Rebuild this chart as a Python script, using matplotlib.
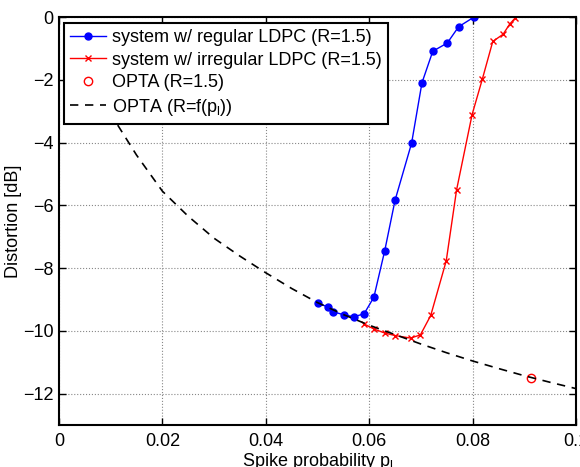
import matplotlib
matplotlib.use("Agg")
import matplotlib.pyplot as plt

plt.rcParams['font.family'] = ['Liberation Sans', 'DejaVu Sans']
plt.rcParams['mathtext.fontset'] = 'custom'
plt.rcParams['mathtext.rm'] = 'Liberation Sans'
plt.rcParams['mathtext.it'] = 'Liberation Sans'

# system w/ regular LDPC (R=1.5)
p_reg = [0.0501, 0.0521, 0.0530, 0.0551, 0.0570, 0.0590, 0.0609, 0.0630,
         0.0650, 0.0682, 0.0702, 0.0723, 0.0751, 0.0773, 0.0802]
d_reg = [-9.11, -9.25, -9.39, -9.49, -9.55, -9.46, -8.93, -7.45,
         -5.84, -4.02, -2.10, -1.09, -0.83, -0.31, -0.01]

# system w/ irregular LDPC (R=1.5)
p_irr = [0.0590, 0.0609, 0.0630, 0.0650, 0.0680, 0.0699, 0.0719, 0.0749,
         0.0769, 0.0799, 0.0819, 0.0839, 0.0859, 0.0872, 0.0882]
d_irr = [-9.78, -9.94, -10.07, -10.15, -10.23, -10.13, -9.51, -7.77,
         -5.51, -3.11, -1.97, -0.78, -0.55, -0.22, -0.04]

# OPTA (R=1.5)
p_opta = [0.0912]
d_opta = [-11.50]

# OPTA (R=f(p_l))
p_curve = [0.006, 0.008, 0.010, 0.0113, 0.015, 0.020, 0.025, 0.030, 0.035,
           0.040, 0.045, 0.050, 0.055, 0.060, 0.065, 0.070, 0.075, 0.080,
           0.085, 0.090, 0.095, 0.100]
d_curve = [-1.75, -2.40, -3.05, -3.43, -4.40, -5.55, -6.35, -7.05, -7.62,
           -8.15, -8.65, -9.10, -9.48, -9.82, -10.12, -10.42, -10.70, -10.96,
           -11.20, -11.43, -11.64, -11.84]

fig = plt.figure(figsize=(5.8, 4.67), dpi=100)
ax = fig.add_axes([59 / 580, 1 - 425 / 467, 517 / 580, 408 / 467])

ax.plot(p_reg, d_reg, '-', color='blue', marker='.', markersize=10, lw=1,
        label='system w/ regular LDPC (R=1.5)')
ax.plot(p_irr, d_irr, '-', color='red', marker='x', markersize=4, mew=1, lw=1,
        label='system w/ irregular LDPC (R=1.5)')
ax.plot(p_opta, d_opta, 'o', color='red', mfc='none', markersize=6, mew=1,
        label='OPTA (R=1.5)')
ax.plot(p_curve, d_curve, '--', color='black', lw=1.2, dashes=(5, 4),
        label='OPTA (R=f(p$_l$))')

ax.set_xlim(0, 0.1)
ax.set_ylim(-13, 0)
ax.set_xticks([0, 0.02, 0.04, 0.06, 0.08, 0.1])
ax.set_xticklabels(['0', '0.02', '0.04', '0.06', '0.08', '0.1'])
ax.set_yticks([0, -2, -4, -6, -8, -10, -12])
ax.set_yticklabels(['0', '\u22122', '\u22124', '\u22126', '\u22128', '\u221210', '\u221212'])
ax.tick_params(direction='in', top=True, right=True, labelsize=13, length=5, width=1)
ax.tick_params(axis='x', pad=6)
ax.tick_params(axis='y', pad=4)
ax.grid(True, linestyle=':', color='#888888', lw=0.8)
for s in ax.spines.values():
    s.set_linewidth(1.5)

ax.set_xlabel('Spike probability p$_l$', fontsize=13)
ax.xaxis.set_label_coords(0.5, -0.063)
ax.set_ylabel('Distortion [dB]', fontsize=13)
ax.yaxis.set_label_coords(-0.072, 0.5)

leg = ax.legend(loc='upper left', bbox_to_anchor=(5 / 517, 1 - 6 / 408), borderaxespad=0,
                fontsize=13, fancybox=False, framealpha=1, edgecolor='black',
                handlelength=2.0, handletextpad=0.3, labelspacing=0.3, borderpad=0.35)
leg.get_frame().set_linewidth(1.5)

fig.savefig('out.png', dpi=100)
